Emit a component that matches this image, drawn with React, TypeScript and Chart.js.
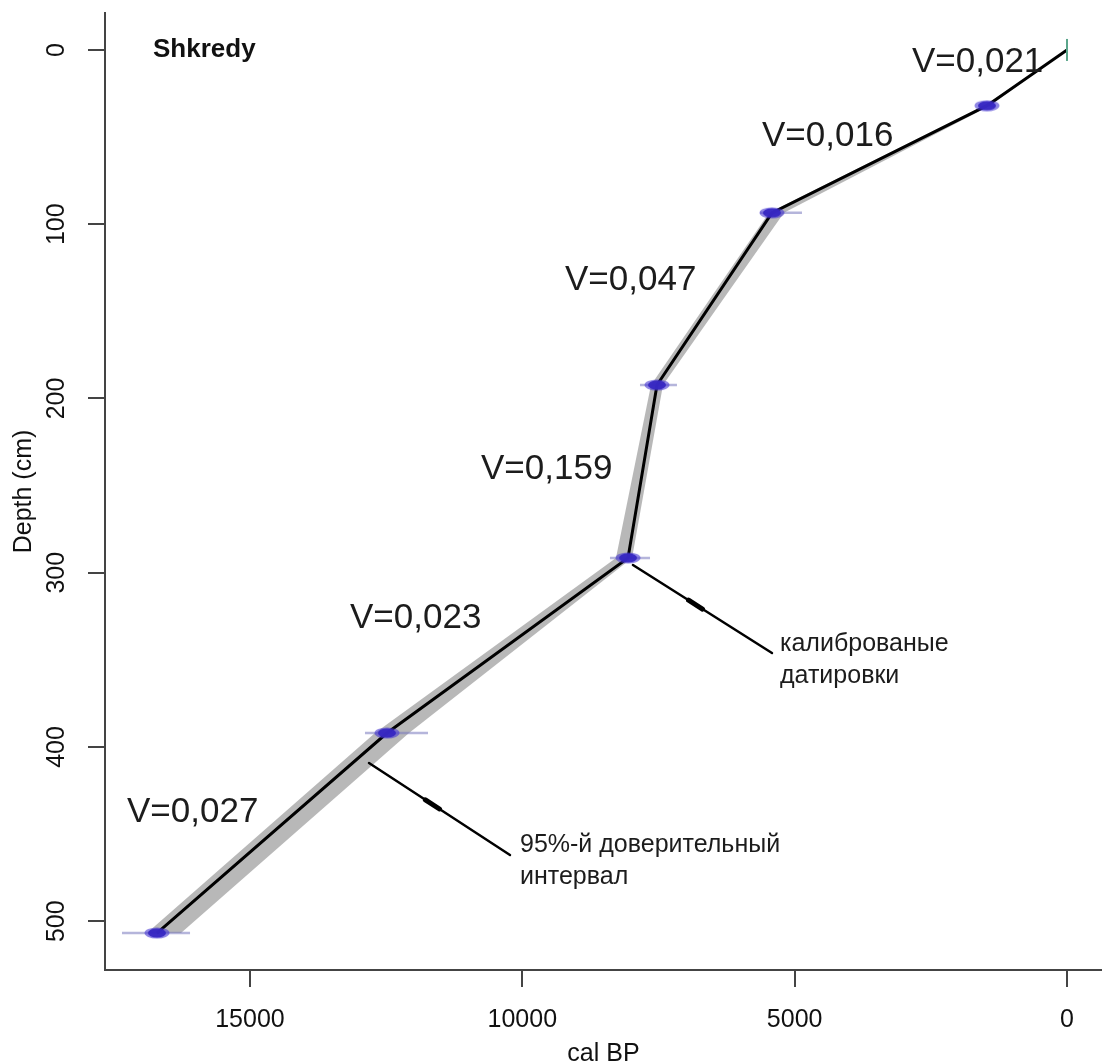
import React, { useEffect, useRef } from 'react';
import { Chart, registerables } from 'chart.js';

Chart.register(...registerables);

const FONT = '"Liberation Sans", Arial, Helvetica, sans-serif';

// axis ticks / ranges
const xTickValues = [15000, 10000, 5000, 0];
const yTickValues = [0, 100, 200, 300, 400, 500];
const xRange = [-643, 17661];
const yRange = [-21.2, 528];

// age-depth model (cal BP vs depth cm)
const modelAge = [0, 1469, 5416, 7527, 8059, 12484, 16707];
const modelDepth = [0, 32, 93.5, 192.3, 291.5, 392, 506.8];

// 95% confidence envelope at the same depths
const envelopeOlder = [0, 1524, 5471, 7637, 8280, 12704, 16890];
const envelopeYounger = [0, 1414, 5196, 7417, 7985, 12080, 16266];

// calibrated dates
const dateAge = [1469, 5416, 7527, 8059, 12484, 16707];
const dateDepth = [32, 93.5, 192.3, 291.5, 392, 506.8];
const dateRangeYoung = [1330, 4865, 7160, 7655, 11731, 16100];
const dateRangeOld = [1610, 5636, 7839, 8390, 12888, 17349];

// surface point
const surfaceAge = [0];
const surfaceDepth = [0];

// sedimentation-rate labels
const rateLabels = ['V=0,021', 'V=0,016', 'V=0,047', 'V=0,159', 'V=0,023', 'V=0,027'];
const rateLabelAge = [2846, 5599, 9216, 10758, 13163, 17257];
const rateLabelDepth = [12.6, 55.1, 137.7, 246.2, 331.7, 443.1];

// annotations
const noteLines = [
  ['калиброваные', 'датировки'],
  ['95%-й доверительный', 'интервал'],
];
const noteAge = [5269, 10042];
const noteDepth = [344.9, 460.3];
const leaderFromAge = [7968, 12814];
const leaderFromDepth = [295.6, 409.2];
const leaderToAge = [5416, 10226];
const leaderToDepth = [346.1, 462];

const siteName = 'Shkredy';
const xTitle = 'cal BP';
const yTitle = 'Depth (cm)';

function makeBlob(): HTMLCanvasElement {
  const c = document.createElement('canvas');
  c.width = 26;
  c.height = 12;
  const g = c.getContext('2d')!;
  g.fillStyle = 'rgba(70,55,210,0.6)';
  g.beginPath();
  g.ellipse(13, 6, 12.5, 5.5, 0, 0, Math.PI * 2);
  g.fill();
  g.fillStyle = 'rgba(55,40,195,0.95)';
  g.beginPath();
  g.ellipse(13, 6, 9, 4.5, 0, 0, Math.PI * 2);
  g.fill();
  return c;
}

const overlayPlugin = {
  id: 'overlay',
  afterDatasetsDraw(chart: any) {
    const { ctx, chartArea } = chart;
    const xs = chart.scales.x;
    const ys = chart.scales.y;
    ctx.save();
    // leader lines
    ctx.strokeStyle = '#000';
    ctx.lineCap = 'round';
    for (let i = 0; i < leaderFromAge.length; i++) {
      const x1 = xs.getPixelForValue(leaderFromAge[i]);
      const y1 = ys.getPixelForValue(leaderFromDepth[i]);
      const x2 = xs.getPixelForValue(leaderToAge[i]);
      const y2 = ys.getPixelForValue(leaderToDepth[i]);
      ctx.lineWidth = 2.5;
      ctx.beginPath();
      ctx.moveTo(x1, y1);
      ctx.lineTo(x2, y2);
      ctx.stroke();
      ctx.lineWidth = 5;
      ctx.beginPath();
      ctx.moveTo(x1 + (x2 - x1) * 0.4, y1 + (y2 - y1) * 0.4);
      ctx.lineTo(x1 + (x2 - x1) * 0.5, y1 + (y2 - y1) * 0.5);
      ctx.stroke();
    }
    // rate labels
    ctx.fillStyle = '#1c1c1c';
    ctx.textAlign = 'left';
    ctx.textBaseline = 'alphabetic';
    ctx.font = `35px ${FONT}`;
    rateLabels.forEach((t, i) => {
      ctx.fillText(t, xs.getPixelForValue(rateLabelAge[i]), ys.getPixelForValue(rateLabelDepth[i]));
    });
    // notes
    ctx.font = `25px ${FONT}`;
    noteLines.forEach((lines, i) => {
      const x = xs.getPixelForValue(noteAge[i]);
      const y = ys.getPixelForValue(noteDepth[i]);
      lines.forEach((l, j) => ctx.fillText(l, x, y + j * 32));
    });
    // site name
    ctx.font = `bold 26px ${FONT}`;
    ctx.fillStyle = '#111';
    ctx.fillText(siteName, chartArea.left + 48, chartArea.top + 44);
    // axis titles
    ctx.font = `25px ${FONT}`;
    ctx.textAlign = 'center';
    ctx.textBaseline = 'middle';
    ctx.fillText(xTitle, (chartArea.left + chartArea.right) / 2, chartArea.bottom + 84);
    ctx.translate(24, (chartArea.top + chartArea.bottom) / 2);
    ctx.rotate(-Math.PI / 2);
    ctx.fillText(yTitle, 0, 0);
    ctx.restore();
  },
};

export default function App() {
  const ref = useRef<HTMLCanvasElement>(null);
  useEffect(() => {
    if (!ref.current) return;
    const blob = makeBlob();
    const pts = (a: number[], d: number[]) => a.map((v, i) => ({ x: v, y: d[i] }));
    const rangeSets = dateDepth.map((d, i) => ({
      data: [
        { x: dateRangeYoung[i], y: d },
        { x: dateRangeOld[i], y: d },
      ],
      borderColor: 'rgba(120,120,190,0.55)',
      borderWidth: 2.5,
      pointRadius: 0,
      fill: false,
      order: 8,
    }));
    const chart = new Chart(ref.current, {
      type: 'line',
      data: {
        datasets: [
          {
            data: pts(envelopeOlder, modelDepth),
            borderWidth: 0,
            borderColor: 'rgba(0,0,0,0)',
            pointRadius: 0,
            fill: false,
            order: 10,
          },
          {
            data: pts(envelopeYounger, modelDepth),
            borderWidth: 0,
            borderColor: 'rgba(0,0,0,0)',
            backgroundColor: 'rgba(150,150,150,0.68)',
            pointRadius: 0,
            fill: '-1',
            order: 9,
          },
          ...rangeSets,
          {
            data: pts(modelAge, modelDepth),
            borderColor: '#000',
            borderWidth: 3,
            pointRadius: 0,
            fill: false,
            order: 5,
          },
          {
            data: pts(dateAge, dateDepth),
            showLine: false,
            pointStyle: blob as any,
            pointRadius: 6,
            fill: false,
            order: 4,
          },
          {
            data: pts(surfaceAge, surfaceDepth),
            showLine: false,
            pointStyle: 'line',
            rotation: 90,
            pointRadius: 11,
            pointBorderColor: '#5aa58a',
            pointBorderWidth: 2,
            fill: false,
            order: 4,
          },
        ] as any,
      },
      options: {
        animation: false,
        responsive: false,
        maintainAspectRatio: false,
        devicePixelRatio: 1,
        events: [],
        layout: { autoPadding: false, padding: { top: 13, left: 0, right: 0, bottom: 0 } },
        plugins: { legend: { display: false }, tooltip: { enabled: false } },
        scales: {
          x: {
            type: 'linear',
            reverse: true,
            min: xRange[0],
            max: xRange[1],
            afterBuildTicks: (s: any) => {
              s.ticks = xTickValues.map((v) => ({ value: v }));
            },
            afterFit: (s: any) => {
              s.height = 94;
              s.paddingLeft = 0;
              s.paddingRight = 0;
            },
            ticks: {
              autoSkip: false,
              maxRotation: 0,
              padding: 18,
              color: '#111',
              font: { family: FONT, size: 25 },
              callback: (v: any) => String(v),
            },
            grid: { drawOnChartArea: false, drawTicks: true, tickLength: 17, color: '#444', lineWidth: 2 },
            border: { display: true, color: '#444', width: 2 },
          },
          y: {
            type: 'linear',
            reverse: true,
            min: yRange[0],
            max: yRange[1],
            afterBuildTicks: (s: any) => {
              s.ticks = yTickValues.map((v) => ({ value: v }));
            },
            afterFit: (s: any) => {
              s.width = 105;
              s.paddingTop = 0;
              s.paddingBottom = 0;
            },
            ticks: {
              autoSkip: false,
              minRotation: 90,
              maxRotation: 90,
              crossAlign: 'center',
              padding: 10,
              color: '#111',
              font: { family: FONT, size: 25 },
              callback: (v: any) => String(v),
            },
            grid: { drawOnChartArea: false, drawTicks: true, tickLength: 17, color: '#444', lineWidth: 2 },
            border: { display: true, color: '#444', width: 2 },
          },
        },
      } as any,
      plugins: [overlayPlugin],
    });
    return () => chart.destroy();
  }, []);
  return (
    <div style={{ position: 'absolute', left: 0, top: 0, width: 1102, height: 1064, background: '#fff' }}>
      <canvas ref={ref} width={1102} height={1064} style={{ display: 'block' }} />
    </div>
  );
}
